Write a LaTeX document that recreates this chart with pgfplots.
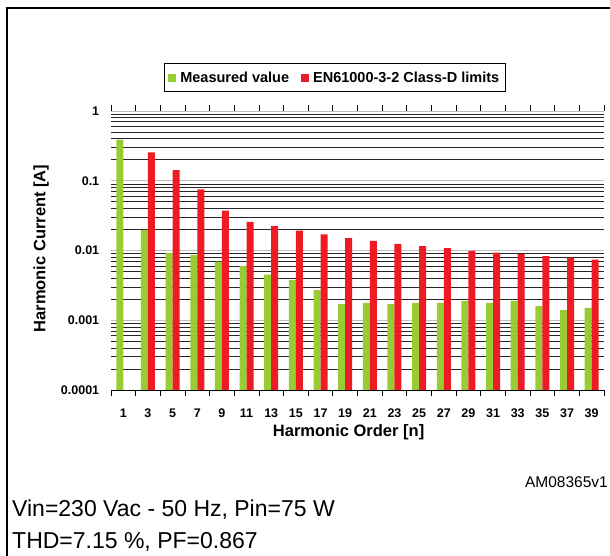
\documentclass[border=0pt]{standalone}
\usepackage{pgfplots}
\pgfplotsset{compat=1.18}
\usepackage{fontspec}
\setmainfont{Liberation Sans}
\definecolor{mgreen}{RGB}{153,204,51}
\definecolor{mred}{RGB}{237,28,36}
\pgfplotsset{sqlegend/.style={legend image code/.code={\fill[##1,draw=none] (0pt,-4pt) rectangle (8pt,4pt);}}}
\begin{document}
\begin{tikzpicture}[x=1pt,y=1pt]
\useasboundingbox (0,0) rectangle (610,-556);
\draw[line width=2pt] (7,-556) -- (7,-8) -- (610,-8);
\begin{axis}[
  at={(111pt,-390pt)}, anchor=south west,
  scale only axis, width=493pt, height=279pt,
  ymode=log, log origin=infty,
  ymin=1e-4, ymax=1,
  xmin=-0.5, xmax=19.5,
  ybar=0pt, bar width=7pt,
  axis line style={draw=none},
  xtick={0,...,19},
  xticklabels={1,3,5,7,9,11,13,15,17,19,21,23,25,27,29,31,33,35,37,39},
  minor xtick={-0.5,0.5,...,19.5},
  major x tick style={draw=none},
  minor x tick style={black, line width=0.8pt},
  tick align=outside,
  minor tick length=6pt,
  ytick={1e-4,1e-3,1e-2,1e-1,1},
  yticklabels={0.0001,0.001,0.01,0.1,1},
  y tick style={draw=none},
  ymajorgrids, yminorgrids,
  major grid style={black!25, line width=0.8pt},
  minor grid style={black!85, line width=0.7pt},
  /pgf/number format/assume math mode=true,
  tick label style={font=\fontsize{12.5}{14}\selectfont\bfseries},
  xticklabel style={yshift=-11pt},
  yticklabel style={xshift=-4pt},
  xlabel={Harmonic Order [n]},
  ylabel={Harmonic Current [A]},
  xlabel style={at={(axis description cs:0.482,-0.152)}, anchor=center, font=\fontsize{16.5}{18}\selectfont\bfseries},
  ylabel style={at={(axis description cs:-0.142,0.507)}, anchor=center, font=\fontsize{16.5}{18}\selectfont\bfseries},
  legend style={at={(axis description cs:0.454,1.12)}, anchor=center, legend columns=2, draw=black, line width=0.8pt,
    font=\fontsize{14.5}{16}\selectfont\bfseries, inner xsep=4pt, inner ysep=6pt,
    /tikz/every odd column/.append style={column sep=2pt},
    /tikz/every even column/.append style={column sep=10pt}},
]
\addplot[fill=mgreen, draw=none, sqlegend] coordinates {
(0,0.39) (1,0.0197) (2,0.0092) (3,0.0086) (4,0.0069) (5,0.0060) (6,0.0045) (7,0.0038) (8,0.0027) (9,0.0017)
(10,0.00177) (11,0.0017) (12,0.00177) (13,0.00177) (14,0.0019) (15,0.00177) (16,0.0019) (17,0.0016) (18,0.0014) (19,0.0015)};
\addplot[fill=mred, draw=none, sqlegend] coordinates {
(1,0.255) (2,0.1425) (3,0.0755) (4,0.0372) (5,0.0258) (6,0.0224) (7,0.0192) (8,0.0171) (9,0.0151)
(10,0.0137) (11,0.0124) (12,0.0116) (13,0.0108) (14,0.0099) (15,0.0093) (16,0.0089) (17,0.0083) (18,0.0079) (19,0.0074)};
\legend{Measured value, EN61000-3-2 Class-D limits}
\draw[black, line width=0.8pt] (rel axis cs:0,0) -- (rel axis cs:1,0);
\end{axis}
\node[anchor=base west, inner sep=0, font=\fontsize{23}{25}\selectfont] at (12,-516) {Vin=230 Vac - 50 Hz, Pin=75 W};
\node[anchor=base west, inner sep=0, font=\fontsize{23}{25}\selectfont] at (12,-548) {THD=7.15 \%, PF=0.867};
\node[anchor=base east, inner sep=0, font=\fontsize{15.5}{17}\selectfont] at (608,-487) {AM08365v1};
\end{tikzpicture}
\end{document}
